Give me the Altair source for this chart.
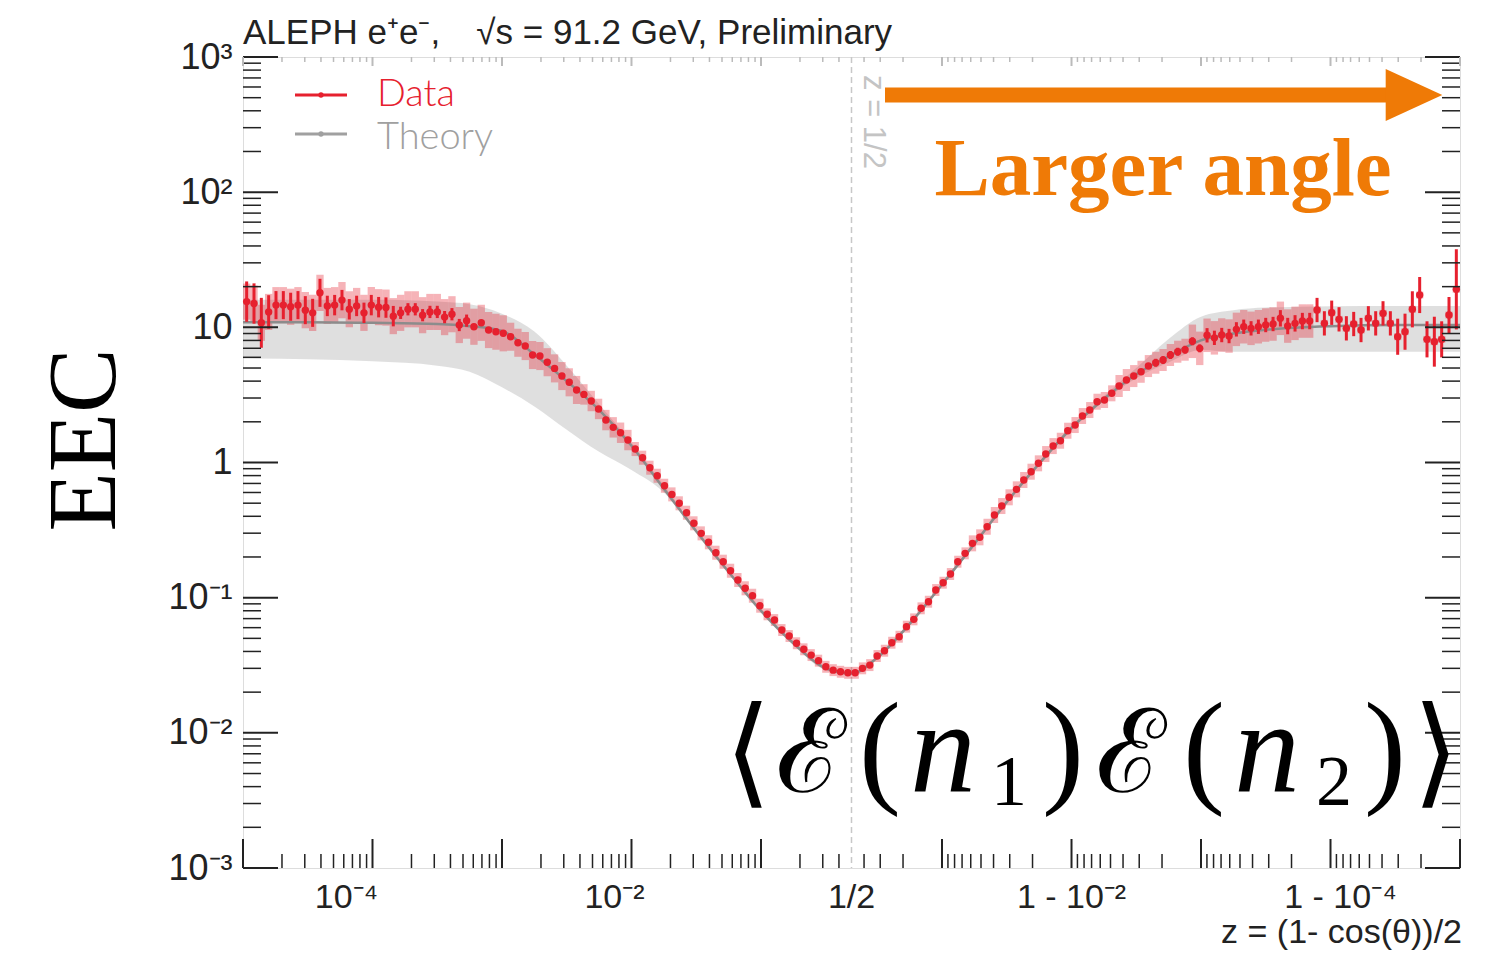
import numpy as np
import pandas as pd
import altair as alt

# ---------------- values ----------------
LOG_HALF = float(np.log10(0.5))          # z = 1/2
N_BINS = 83                               # bins per side (uniform in log)

# EEC data, left half: bins uniform in log10(z) from 1e-5 to 1/2
eec_left = [15.5, 15.0, 10.8, 13.0, 14.6, 14.6, 14.2, 14.6, 13.4, 12.8,
            18.0, 14.4, 14.6, 15.9, 13.6, 14.4, 12.8, 14.6, 14.1, 14.0,
            12.1, 12.8, 13.6, 13.6, 12.3, 13.0, 13.0, 11.9, 12.5, 10.4,
            11.2, 10.1, 10.8, 9.55, 9.28, 9.03, 8.52, 7.69, 7.27, 6.24,
            6.13, 5.52, 4.97, 4.36, 3.92, 3.44, 3.19, 2.85, 2.49, 2.06,
            1.82, 1.66, 1.466, 1.258, 1.085, 0.915, 0.798, 0.673, 0.581, 0.499,
            0.425, 0.355, 0.299, 0.257, 0.215, 0.1845, 0.1582, 0.1351, 0.1173, 0.1033,
            0.0872, 0.0753, 0.0683, 0.0576, 0.052, 0.046, 0.0415, 0.0376, 0.0342, 0.0308,
            0.0291, 0.0283, 0.0278]
# EEC data, right half: bins uniform in -log10(1-z) from 1/2 to 1-1e-5
eec_right = [0.0278, 0.0300, 0.0317, 0.0370, 0.0405, 0.0464, 0.0514, 0.0610, 0.0691, 0.0834,
             0.0933, 0.1139, 0.129, 0.1496, 0.1845, 0.2128, 0.2523, 0.2795, 0.3347, 0.4088,
             0.4763, 0.5526, 0.633, 0.742, 0.855, 0.986, 1.155, 1.323, 1.449, 1.718,
             1.893, 2.207, 2.444, 2.816, 2.899, 3.249, 3.68, 4.075, 4.36, 4.69,
             5.17, 5.47, 5.73, 6.24, 6.6, 6.83, 7.88, 6.99, 8.73, 8.36,
             8.77, 8.62, 9.66, 10.1, 9.83, 10.1, 10.4, 10.58, 11.66, 10.22,
             10.7, 11.13, 11.13, 13.43, 10.7, 12.82, 11.46, 9.83, 10.58, 9.55,
             11.66, 10.7, 12.69, 10.7, 8.52, 9.28, 13.59, 17.34, 8.15, 7.83,
             8.15, 12.33, 19.1]

# relative statistical uncertainties (error bars)
stat_left = [0.41, 0.41, 0.53, 0.33] + [0.27] * 7 + [0.19] * 10 + [0.11] * 10 + [0.05] * 10 + [0.015] * 42
stat_right = ([0.015] * 41 + [0.07] * 7 + [0.13] * 10 + [0.15] * 5 + [0.23] * 11 +
              [0.36] * 5 + [0.53, 0.36, 0.36, 0.98])
# relative systematic uncertainties (boxes)
sys_left = [0.36] * 36 + [0.27] * 10 + [0.19] * 7 + [0.127] * 18 + [0.107] * 12
sys_right = [0.107] * 16 + [0.146] * 20 + [0.206] * 10 + [0.33] * 17 + [0.06] * 20

# theory curve and band
theory_left_logz = [-5.0, -4.5, -4.0, -3.5, -3.25, -3.0, -2.75, -2.5, -2.25, -2.0,
                    -1.75, -1.5, -1.25, -1.0, -0.75, -0.5, LOG_HALF]
theory_left_val = [10.9, 10.9, 10.8, 10.6, 10.2, 9.4, 6.3, 4.0, 2.45, 1.33,
                   0.64, 0.31, 0.155, 0.080, 0.046, 0.030, 0.0275]
theory_left_lo = [5.9, 5.8, 5.6, 5.2, 4.7, 3.6, 2.6, 1.75, 1.2, 0.88,
                  0.60, 0.30, 0.150, 0.077, 0.0445, 0.029, 0.0267]
theory_left_hi = [16.0, 16.0, 16.0, 15.5, 14.8, 12.6, 9.3, 5.2, 2.7, 1.40,
                  0.68, 0.32, 0.160, 0.083, 0.0475, 0.031, 0.0283]
theory_right_mlog1mz = [-LOG_HALF, 0.5, 0.75, 1.0, 1.25, 1.5, 1.75, 2.0, 2.25, 2.5,
                        2.75, 3.0, 3.25, 3.5, 4.0, 4.5, 5.0]
theory_right_val = [0.0275, 0.036, 0.064, 0.125, 0.25, 0.51, 0.98, 1.8, 2.95, 4.5,
                    6.1, 8.0, 9.0, 9.6, 10.2, 10.4, 10.4]
theory_right_lo = [0.0267, 0.035, 0.062, 0.121, 0.242, 0.49, 0.95, 1.74, 2.85, 4.2,
                   5.5, 6.8, 6.6, 6.6, 6.6, 6.6, 6.6]
theory_right_hi = [0.0283, 0.037, 0.066, 0.129, 0.258, 0.53, 1.01, 1.86, 3.1, 5.0,
                   8.2, 12.0, 13.4, 14.0, 14.3, 14.4, 14.4]

# axis tick labels
y_tick_values = [1e-3, 1e-2, 1e-1, 1, 10, 100, 1000]
x_tick_labels = ["10⁻⁴", "10⁻²", "1/2", "1 - 10⁻²", "1 - 10⁻⁴"]

# ---------------- build tables ----------------
# x coordinate u: log10(z) on the left, 2*log10(1/2) - log10(1-z) on the right
left_edges = np.linspace(-5.0, LOG_HALF, N_BINS + 1)
right_edges = np.linspace(-LOG_HALF, 5.0, N_BINS + 1) + 2 * LOG_HALF
edges_lo = np.concatenate([left_edges[:-1], right_edges[:-1]])
edges_hi = np.concatenate([left_edges[1:], right_edges[1:]])
vals = np.array(eec_left + eec_right)
stat = np.array(stat_left + stat_right)
sysu = np.array(sys_left + sys_right)
data = pd.DataFrame({
    "u": (edges_lo + edges_hi) / 2, "u_lo": edges_lo, "u_hi": edges_hi, "eec": vals,
    "stat_lo": vals / (1 + stat), "stat_hi": vals * (1 + stat),
    "sys_lo": vals / (1 + sysu), "sys_hi": vals * (1 + sysu),
})
theory = pd.DataFrame({
    "u": list(theory_left_logz) + [2 * LOG_HALF + w for w in theory_right_mlog1mz[1:]],
    "val": theory_left_val + theory_right_val[1:],
    "lo": theory_left_lo + theory_right_lo[1:],
    "hi": theory_left_hi + theory_right_hi[1:],
})

U_MIN, U_MAX = -5.0, 2 * LOG_HALF + 5.0
x_tick_pos = [-4.0, -2.0, LOG_HALF, 2 * LOG_HALF + 2.0, 2 * LOG_HALF + 4.0]
x_label_dx = [-26, -17, 0, 0, 10]   # label nudges as in the original layout

# minor/major tick tables
xt = []
for n in range(-5, 0):
    for k in range(1, 10):
        v = k * 10.0 ** n
        if v < 0.45:
            xt.append({"u": np.log10(v), "major": k == 1})
            xt.append({"u": 2 * LOG_HALF - np.log10(v), "major": k == 1})
xticks = pd.DataFrame(xt)
yt = []
for n in range(-3, 3):
    for k in range(1, 10):
        yt.append({"v": k * 10.0 ** n, "major": k == 1})
yt.append({"v": 1000.0, "major": True})
yticks = pd.DataFrame(yt)

W, H = 1217, 811
RED = "#e6202e"
ORANGE = "#ef7a06"
GRAY = "#8c8c8c"
SANS = "Liberation Sans"

xs = alt.Scale(domain=[U_MIN, U_MAX], nice=False, zero=False)
ys = alt.Scale(type="log", domain=[1e-3, 1e3], nice=False)

ylab_expr = ("datum.value > 500 ? '10³' : datum.value > 50 ? '10²' : datum.value > 5 ? '10' : "
             "datum.value > 0.5 ? '1' : datum.value > 0.05 ? '10⁻¹' : datum.value > 0.005 ? '10⁻²' : '10⁻³'")
y_axis = alt.Axis(values=y_tick_values, labelExpr=ylab_expr, ticks=False, domain=False, grid=False,
                  labelFont=SANS, labelFontSize=36, labelColor="#222", labelPadding=11,
                  labelOverlap=False, labelFlush=False, title=None)

base_data = alt.Chart(data)

band = alt.Chart(theory).mark_area(color="#c4c4c4", opacity=0.55, interpolate="monotone").encode(
    x=alt.X("u:Q", scale=xs, axis=None),
    y=alt.Y("lo:Q", scale=ys, axis=y_axis),
    y2="hi:Q",
)
half_line = alt.Chart(pd.DataFrame({"u": [LOG_HALF]})).mark_rule(
    color="#c8c8c8", strokeWidth=1.5, strokeDash=[6, 4]).encode(x=alt.X("u:Q", scale=xs))
boxes = base_data.mark_rect(color=RED, opacity=0.34).encode(
    x=alt.X("u_lo:Q", scale=xs), x2="u_hi:Q",
    y=alt.Y("sys_lo:Q", scale=ys), y2="sys_hi:Q",
)
theory_line = alt.Chart(theory).mark_line(color=GRAY, strokeWidth=2.5, interpolate="monotone").encode(
    x=alt.X("u:Q", scale=xs), y=alt.Y("val:Q", scale=ys))
bars = base_data.mark_rule(color=RED, strokeWidth=3).encode(
    x=alt.X("u:Q", scale=xs), y=alt.Y("stat_lo:Q", scale=ys), y2="stat_hi:Q")
dots = base_data.mark_circle(color=RED, size=55, opacity=1).encode(
    x=alt.X("u:Q", scale=xs), y=alt.Y("eec:Q", scale=ys))

# x tick labels (text at the tick positions)
x_label_layers = [
    alt.Chart(pd.DataFrame({"u": [p], "t": [t]})).mark_text(
        dx=d, baseline="top", align="center", font=SANS, fontSize=34, color="#222").encode(
        x=alt.X("u:Q", scale=xs), y=alt.value(H + 13), text="t:N")
    for p, t, d in zip(x_tick_pos, x_tick_labels, x_label_dx)
]

# frame ticks (pointing inward)
def yt_layer(major, left):
    ln = 35 if major else 18
    df = yticks[yticks["major"] == major]
    x0, x1 = (0, ln) if left else (W, W - ln)
    return alt.Chart(df).mark_rule(color="#222", strokeWidth=2 if major else 1.5).encode(
        y=alt.Y("v:Q", scale=ys), x=alt.value(x0), x2=alt.value(x1))

def xt_layer(major, bottom):
    if bottom:
        ln = 29 if major else 14
        y0, y1 = H, H - ln
        col = "#222"
    else:
        ln = 9 if major else 5
        y0, y1 = 0, ln
        col = "#bbbbbb"
    df = xticks[xticks["major"] == major]
    return alt.Chart(df).mark_rule(color=col, strokeWidth=2 if major else 1.5).encode(
        x=alt.X("u:Q", scale=xs), y=alt.value(y0), y2=alt.value(y1))

tick_layers = [yt_layer(m, l) for m in (True, False) for l in (True, False)] + \
              [xt_layer(m, b) for m in (True, False) for b in (True, False)]

def label(text, x, y, **kw):
    return alt.Chart(pd.DataFrame({"t": [text]})).mark_text(**kw).encode(
        text="t:N", x=alt.value(x), y=alt.value(y))

annotations = [
    label("ALEPH e⁺e⁻,\u00a0\u00a0\u00a0\u2009√s = 91.2 GeV, Preliminary", 0, -24, align="left",
          baseline="middle", font=SANS, fontSize=35, color="#222"),
    label("EEC", -157, 383, align="center", baseline="middle", angle=270,
          font="Liberation Serif", fontSize=97, color="#000"),
    label("z = (1- cos(θ))/2", W + 2, 876, align="right", baseline="middle",
          font=SANS, fontSize=34, color="#222"),
    label("z = 1/2", 630, 65, align="center", baseline="middle", angle=90,
          font=SANS, fontSize=31, color="#c4c4c4"),
    label("Data", 134, 38, align="left", baseline="middle", font="Lato", fontSize=38,
          fontWeight=300, color=RED),
    label("Theory", 134, 81, align="left", baseline="middle", font="Lato", fontSize=38,
          fontWeight=300, color="#a0a0a0"),
    label("Larger angle", 920, 138, align="center", baseline="alphabetic",
          font="Liberation Serif", fontSize=83, fontWeight="bold", color=ORANGE),
]

one = pd.DataFrame({"a": [0]})
legend_marks = [
    alt.Chart(one).mark_rule(color=RED, strokeWidth=3).encode(
        x=alt.value(52), x2=alt.value(104), y=alt.value(38)),
    alt.Chart(one).mark_circle(color=RED, size=28, opacity=1).encode(
        x=alt.value(78), y=alt.value(38)),
    alt.Chart(one).mark_rule(color="#a0a0a0", strokeWidth=3).encode(
        x=alt.value(52), x2=alt.value(104), y=alt.value(77)),
    alt.Chart(one).mark_circle(color="#a0a0a0", size=28, opacity=1).encode(
        x=alt.value(78), y=alt.value(77)),
]

arrow = [
    alt.Chart(one).mark_rule(color=ORANGE, strokeWidth=15).encode(
        x=alt.value(642), x2=alt.value(1150), y=alt.value(38)),
    alt.Chart(one).mark_point(shape="M-1,-0.92L1,0L-1,0.92Z", filled=True, color=ORANGE,
                              opacity=1, size=3200).encode(x=alt.value(1171), y=alt.value(38)),
]

# formula <E(n1)E(n2)> laid out glyph by glyph
SERIF = "Liberation Serif"
glyphs = [("⟨", 505, 120, "normal", 735, "DejaVu Serif"), ("ℰ", 568, 116, "normal", 735, "DejaVu Serif"),
          ("(", 637, 126, "normal", 733, SERIF), ("n", 700, 132, "italic", 735, SERIF),
          ("1", 766, 72, "normal", 748, SERIF), (")", 820, 126, "normal", 733, SERIF),
          ("ℰ", 888, 116, "normal", 735, "DejaVu Serif"), ("(", 961, 126, "normal", 733, SERIF),
          ("n", 1024, 132, "italic", 735, SERIF), ("2", 1091, 72, "normal", 748, SERIF),
          (")", 1142, 126, "normal", 733, SERIF), ("⟩", 1193, 120, "normal", 735, "DejaVu Serif")]
formula = [label(g, x, y, align="center", baseline="alphabetic", font=f,
                 fontSize=s, fontStyle=st, color="#000") for g, x, s, st, y, f in glyphs]

chart = alt.layer(
    band, half_line, boxes, theory_line, bars, dots,
    *tick_layers, *x_label_layers, *legend_marks, *arrow, *annotations, *formula,
).properties(
    width=W, height=H,
    padding={"left": 235, "top": 49, "right": 44, "bottom": 86},
    autosize=alt.AutoSizeParams(type="none"),
).configure_view(stroke="#222", strokeWidth=2).configure(background="white")

chart.save("out.html", embed_options={"renderer": "svg", "actions": False})
